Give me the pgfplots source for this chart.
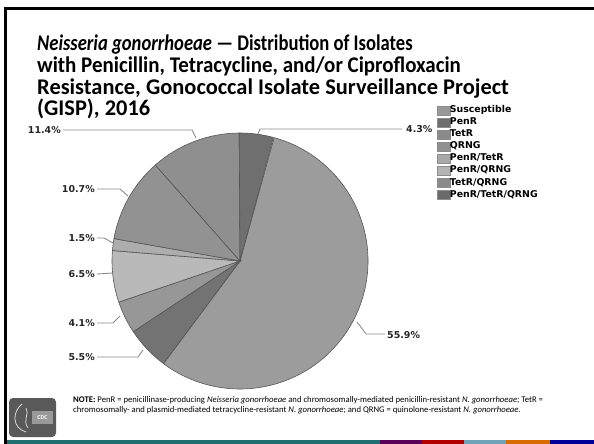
\documentclass[border=0pt]{standalone}
\usepackage{pgfplots}
\pgfplotsset{compat=1.18}
\usepackage{fontspec}
\setmainfont{Carlito}
\newfontfamily\djv{DejaVu Sans}
\definecolor{cS}{HTML}{9C9C9C}
\definecolor{cA}{HTML}{737373}
\definecolor{cB}{HTML}{979797}
\definecolor{cC}{HTML}{B9B9B9}
\definecolor{cD}{HTML}{ADADAD}
\definecolor{cE}{HTML}{929292}
\definecolor{cF}{HTML}{8F8F8F}
\definecolor{cG}{HTML}{6F6F6F}
\definecolor{lS}{HTML}{999999}
\definecolor{lA}{HTML}{6E6E6E}
\definecolor{lB}{HTML}{8A8A8A}
\definecolor{lC}{HTML}{8F8F8F}
\definecolor{lD}{HTML}{A8A8A8}
\definecolor{lE}{HTML}{B3B3B3}
\definecolor{lF}{HTML}{8A8A8A}
\definecolor{lG}{HTML}{6A6A6A}
\definecolor{edge}{HTML}{555555}
\definecolor{lead}{HTML}{8A8A8A}
\definecolor{teal1}{HTML}{1F6E70}
% pie geometry (image pixel coordinates, y downwards)
\def\cx{240}\def\cy{261}\def\rr{128}
% slice: #1 start angle, #2 share in percent, #3 colour (angles clockwise from 12 o'clock)
\newcommand\slice[3]{%
  \pgfmathsetmacro\sx{\cx+\rr*sin(#1)}%
  \pgfmathsetmacro\sy{\cy-\rr*cos(#1)}%
  \pgfmathsetmacro\ta{90-(#1)}%
  \pgfmathsetmacro\tb{90-(#1)-3.6*(#2)}%
  \edef\doslice{\noexpand\addplot[fill=#3, draw=edge, line width=0.6pt, forget plot]
    coordinates {(\cx,\cy) (\sx,\sy)} arc[start angle=\ta, end angle=\tb, radius=\rr bp] -- cycle;}%
  \doslice}
\begin{document}
\begin{tikzpicture}
\begin{axis}[
  width=594bp, height=444bp, scale only axis,
  xmin=0, xmax=594, ymin=0, ymax=444, y dir=reverse,
  axis lines=none, ticks=none, clip=false,
  legend style={at={(axis cs:436.5,105.5)}, anchor=north west, draw=none, fill=none,
    inner sep=0pt, outer sep=0pt, row sep=2.5bp,
    font=\djv\bfseries\fontsize{9.4}{10}\selectfont,
    nodes={inner sep=0pt, text height=6.8bp, text depth=2.5bp},
    /tikz/every even column/.append style={column sep=5bp}},
  legend cell align=left,
  legend image code/.code={\draw[#1, draw=black!45] (0bp,-4.6bp) rectangle (13bp,4.6bp);},
]
% slices, clockwise from 12 o'clock
\slice{15.48}{55.9}{cS}
\slice{216.72}{5.5}{cA}
\slice{236.52}{4.1}{cB}
\slice{251.28}{6.5}{cC}
\slice{274.68}{1.5}{cD}
\slice{280.08}{10.7}{cE}
\slice{318.60}{11.4}{cF}
\slice{359.64}{4.3}{cG}
% leader lines
\addplot[lead, line width=0.9pt, forget plot] coordinates {(258,134) (260,129) (402,129)};
\addplot[lead, line width=0.9pt, forget plot] coordinates {(63,130) (192,130) (196,138)};
\addplot[lead, line width=0.9pt, forget plot] coordinates {(97,189) (120,189) (128,196)};
\addplot[lead, line width=0.9pt, forget plot] coordinates {(97,238) (104,238) (113,243)};
\addplot[lead, line width=0.9pt, forget plot] coordinates {(97,274) (113,273)};
\addplot[lead, line width=0.9pt, forget plot] coordinates {(97,323) (113,323) (120,316)};
\addplot[lead, line width=0.9pt, forget plot] coordinates {(97,357) (138,357) (143,350)};
\addplot[lead, line width=0.9pt, forget plot] coordinates {(357,322) (366,334) (385,334)};
% legend
\addlegendimage{fill=lS}\addlegendentry{Susceptible}
\addlegendimage{fill=lA}\addlegendentry{PenR}
\addlegendimage{fill=lB}\addlegendentry{TetR}
\addlegendimage{fill=lC}\addlegendentry{QRNG}
\addlegendimage{fill=lD}\addlegendentry{PenR/TetR}
\addlegendimage{fill=lE}\addlegendentry{PenR/QRNG}
\addlegendimage{fill=lF}\addlegendentry{TetR/QRNG}
\addlegendimage{fill=lG}\addlegendentry{PenR/TetR/QRNG}
% percentage labels
\begin{scope}[every node/.style={font=\djv\bfseries\fontsize{9.5}{11}\selectfont, text=black!85, inner sep=0pt}]
\node[anchor=west] at (axis cs:406,129) {4.3\%};
\node[anchor=east] at (axis cs:61,130) {11.4\%};
\node[anchor=east] at (axis cs:95,189) {10.7\%};
\node[anchor=east] at (axis cs:95,238) {1.5\%};
\node[anchor=east] at (axis cs:95,274) {6.5\%};
\node[anchor=east] at (axis cs:95,323) {4.1\%};
\node[anchor=east] at (axis cs:95,357) {5.5\%};
\node[anchor=west] at (axis cs:387,335) {55.9\%};
\end{scope}
% title
\begin{scope}[every node/.style={anchor=base west, inner sep=0pt, font=\bfseries\fontsize{22.5}{22.5}\selectfont}]
\node at (axis cs:37,51) {\addfontfeatures{FakeStretch=0.83}\textit{Neisseria gonorrhoeae} --- Distribution of Isolates};
\node at (axis cs:37,72.5) {\addfontfeatures{FakeStretch=0.935}with Penicillin, Tetracycline, and/or Ciprofloxacin};
\node at (axis cs:37,94) {Resistance, Gonococcal Isolate Surveillance Project};
\node at (axis cs:37,115.5) {(GISP), 2016};
\end{scope}
% note
\begin{scope}[every node/.style={anchor=base west, inner sep=0pt, font=\fontsize{8.7}{10}\selectfont}]
\node at (axis cs:73,402) {\textbf{NOTE:} PenR = penicillinase-producing \textit{Neisseria gonorrhoeae} and chromosomally-mediated penicillin-resistant \textit{N. gonorrhoeae}; TetR =};
\node at (axis cs:73,412) {chromosomally- and plasmid-mediated tetracycline-resistant \textit{N. gonorrhoeae}; and QRNG = quinolone-resistant \textit{N. gonorrhoeae}.};
\end{scope}
% frame and bottom stripe
\draw[black, line width=3bp] (axis cs:5,444) -- (axis cs:5,8.5) -- (axis cs:594,8.5);
\fill[teal1] (axis cs:6.5,440) rectangle (axis cs:380,444);
\fill[violet!70!black] (axis cs:380,440) rectangle (axis cs:422,444);
\fill[red!70!black] (axis cs:422,440) rectangle (axis cs:464,444);
\fill[cyan!40!gray] (axis cs:464,440) rectangle (axis cs:506,444);
\fill[orange!85!black] (axis cs:506,440) rectangle (axis cs:550,444);
\fill[blue!60!black] (axis cs:550,440) rectangle (axis cs:594,444);
% logo
\fill[black!65, rounded corners=4bp] (axis cs:9,398) rectangle (axis cs:56,437);
\draw[white!85!black, line width=0.8pt] (axis cs:22,404) .. controls (axis cs:12,412) and (axis cs:12,428) .. (axis cs:26,432);
\draw[white!85!black, line width=0.8pt] (axis cs:26,408) .. controls (axis cs:30,414) and (axis cs:22,420) .. (axis cs:28,428);
\fill[black!40] (axis cs:32,411) rectangle (axis cs:53,424);
\node[text=white, font=\bfseries\fontsize{6}{6}\selectfont, inner sep=0pt] at (axis cs:42.5,417.5) {CDC};
\end{axis}
\pgfresetboundingbox
\useasboundingbox (current axis.south west) rectangle (current axis.north east);
\end{tikzpicture}
\end{document}
